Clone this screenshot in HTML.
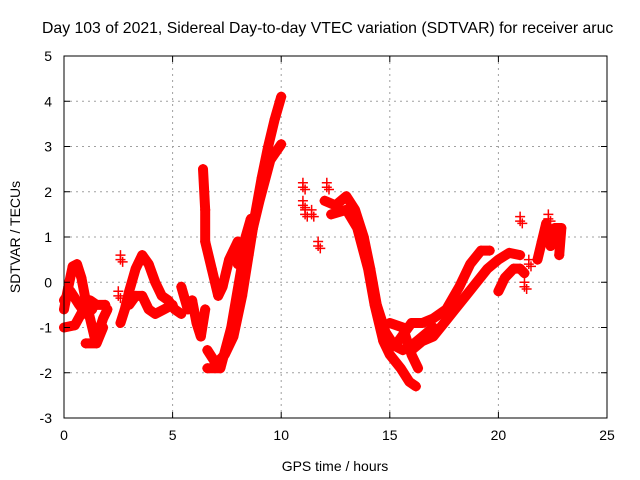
<!DOCTYPE html>
<html><head><meta charset="utf-8"><style>
body{margin:0;background:#fff;}
svg{display:block;font-family:"Liberation Sans",sans-serif;}
</style></head><body>
<svg id="c" width="640" height="480">
<text x="42" y="33" font-size="15.8" fill="#000">Day 103 of 2021, Sidereal Day-to-day VTEC variation (SDTVAR) for receiver aruc</text>
<g id="grid"></g><g id="marks"></g><g id="axes"></g>
<text x="335" y="471" font-size="14" text-anchor="middle">GPS time / hours</text>
<text transform="translate(20,237) rotate(-90)" font-size="14" text-anchor="middle">SDTVAR / TECUs</text>
</svg>
<script>
const xTicks=[0,5,10,15,20,25];
const yTicks=[-3,-2,-1,0,1,2,3,4,5];
const trackA=[[0,-0.6],[0.2,-0.1],[0.4,0.35],[0.6,0.4],[0.8,0.1],[1.0,-0.4],[1.2,-0.8],[1.4,-1.2],[1.6,-1.1],[1.8,-0.8],[2.0,-0.6]];
const trackB=[[0,-1.0],[0.5,-0.95],[0.9,-0.6],[1.2,-0.4],[1.5,-0.5],[1.9,-0.5]];
const trackC=[[0,-0.4],[0.3,-0.2],[0.7,-0.5],[1.0,-0.7],[1.3,-0.6]];
const trackC2=[[1.0,-1.35],[1.5,-1.35],[1.8,-1.0]];
const trackD=[[2.6,-0.9],[2.8,-0.6],[3.0,-0.2],[3.3,0.3],[3.6,0.6],[3.9,0.4],[4.2,0.0],[4.5,-0.3],[4.8,-0.4],[5.1,-0.6],[5.4,-0.7]];
const trackE=[[3.0,-0.5],[3.3,-0.3],[3.6,-0.3],[3.9,-0.6],[4.2,-0.7],[4.6,-0.6],[5.0,-0.5]];
const trackF=[[5.4,-0.1],[5.7,-0.6],[5.9,-0.4],[6.1,-0.9],[6.3,-1.2],[6.5,-0.6]];
const trackSpike=[[6.4,2.5],[6.5,1.6],[6.5,0.9],[6.8,0.3],[7.1,-0.3],[7.3,-0.1],[7.6,0.5],[8.0,0.9]];
const trackSpike2=[[8.0,0.4],[8.3,0.9],[8.6,1.4]];
const trackRise1=[[6.6,-1.5],[7.0,-1.8],[7.4,-1.6],[7.8,-1.2],[8.2,-0.3],[8.5,0.6],[8.8,1.5],[9.1,2.3],[9.4,3.0],[9.7,3.6],[10.0,4.1]];
const trackRise2=[[6.6,-1.9],[7.2,-1.9],[7.7,-1.0],[8.2,0.4],[8.6,1.0],[9.0,1.8],[9.5,2.7],[10.0,3.05]];
const trackG=[[12.0,1.8],[12.5,1.7],[13.0,1.9],[13.4,1.6],[13.8,1.0],[14.1,0.3],[14.4,-0.5],[14.8,-1.1],[15.2,-1.4],[15.6,-1.5],[16.0,-1.4],[16.5,-1.2],[17.0,-1.0]];
const trackH=[[12.3,1.5],[13.0,1.6],[13.5,1.2],[14.0,0.3],[14.3,-0.5],[14.7,-1.3],[15.0,-1.6],[15.5,-1.9],[15.9,-2.2],[16.2,-2.3]];
const trackI=[[15.0,-0.9],[15.6,-1.0],[16.0,-1.6],[16.3,-1.9]];
const trackJ=[[15.4,-1.3],[16.0,-0.9],[16.5,-0.9],[17.0,-0.8],[17.6,-0.6],[18.2,-0.1],[18.7,0.4],[19.2,0.7],[19.6,0.7]];
const trackK=[[16.0,-1.5],[16.5,-1.3],[17.0,-1.2],[17.5,-0.9],[18.0,-0.6],[18.5,-0.3],[19.0,0.0],[19.5,0.3],[20.0,0.5],[20.5,0.65],[21.0,0.6]];
const trackL=[[20.0,-0.2],[20.3,0.1],[20.7,0.3],[21.0,0.3],[21.2,0.2]];
const trackEnd=[[21.8,0.5],[22.0,0.9],[22.2,1.3],[22.4,0.8],[22.6,1.2],[22.9,1.2],[22.8,0.6]];
const scattered=[[2.5,-0.3],[2.6,0.5],[11.0,2.1],[11.0,1.7],[11.1,1.5],[11.4,1.5],[11.7,0.8],[21.0,1.35],[21.2,-0.1],[21.4,0.4],[22.3,1.4],[12.1,2.1]];
const tracks=[trackA,trackB,trackC,trackC2,trackD,trackE,trackF,trackSpike,trackSpike2,trackRise1,trackRise2,trackG,trackH,trackI,trackJ,trackK,trackL,trackEnd];
const NS="http://www.w3.org/2000/svg";
const X0=64,X1=607,Y0=418,Y1=56;
const sx=v=>X0+(v-0)/(25-0)*(X1-X0);
const sy=v=>Y0-(v+3)/(5+3)*(Y0-Y1);
function mk(t,a,p){const e=document.createElementNS(NS,t);for(const k in a)e.setAttribute(k,a[k]);p.appendChild(e);return e;}
const grid=document.getElementById('grid'),axes=document.getElementById('axes'),marks=document.getElementById('marks');
xTicks.forEach(t=>{
 if(t>0&&t<25){const l=mk('line',{x1:sx(t),x2:sx(t),y1:Y1,y2:Y0,stroke:'#a0a0a0','stroke-dasharray':'2,4'},grid);
 
 }
 mk('line',{x1:sx(t),x2:sx(t),y1:Y0,y2:Y0-6,stroke:'#000'},axes);
 mk('line',{x1:sx(t),x2:sx(t),y1:Y1,y2:Y1+6,stroke:'#000'},axes);
 const tx=mk('text',{x:sx(t),y:Y0+22,'font-size':14,'text-anchor':'middle'},axes);tx.textContent=t;
 
 
});
yTicks.forEach(t=>{
 if(t>-3&&t<5){const l=mk('line',{x1:X0,x2:X1,y1:sy(t),y2:sy(t),stroke:'#a0a0a0','stroke-dasharray':'2,4'},grid);
 
 }
 mk('line',{x1:X0,x2:X0+6,y1:sy(t),y2:sy(t),stroke:'#000'},axes);
 mk('line',{x1:X1,x2:X1-6,y1:sy(t),y2:sy(t),stroke:'#000'},axes);
 const tx=mk('text',{x:X0-12,y:sy(t)+5,'font-size':14,'text-anchor':'end'},axes);tx.textContent=t;
 
 
});
const fr=mk('rect',{x:X0,y:Y1,width:X1-X0,height:Y0-Y1,fill:'none',stroke:'#000'},axes);


tracks.forEach(tr=>{
 const pl=mk('polyline',{points:tr.map(p=>sx(p[0])+','+sy(p[1])).join(' '),fill:'none',stroke:'#ff0000','stroke-width':10,'stroke-linejoin':'round','stroke-linecap':'round'},marks);
 
 
});
function plus(p){
 const g=mk('path',{d:`M${sx(p[0])-5},${sy(p[1])}h10M${sx(p[0])},${sy(p[1])-5}v10`,stroke:'#ff0000','stroke-width':1.5},marks);
 
 
}
tracks.forEach(tr=>tr.forEach(plus));
scattered.forEach(p=>{plus(p);plus([p[0],p[1]+0.1]);plus([p[0]+0.1,p[1]-0.05]);});
</script>
</body></html>
